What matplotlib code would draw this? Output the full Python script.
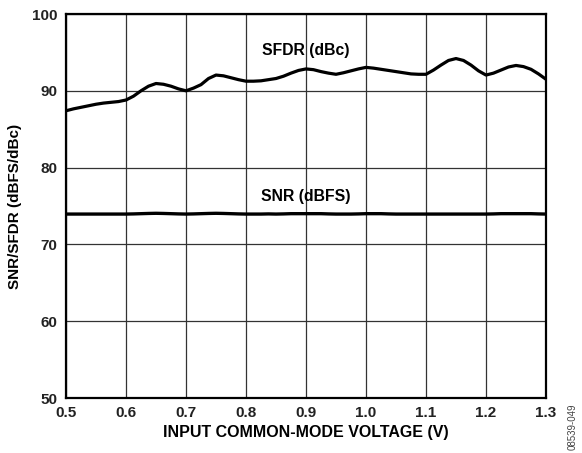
import numpy as np
import matplotlib.pyplot as plt

plt.rcParams['font.family'] = ['Liberation Sans', 'DejaVu Sans']
plt.rcParams['font.weight'] = 'bold'

# tensao de modo comum (V), lida a cada 0.0125 V
vcm = [0.5, 0.5125, 0.525, 0.5375, 0.55, 0.5625, 0.575, 0.5875, 0.6, 0.6125,
       0.625, 0.6375, 0.65, 0.6625, 0.675, 0.6875, 0.7, 0.7125, 0.725, 0.7375,
       0.75, 0.7625, 0.775, 0.7875, 0.8, 0.8125, 0.825, 0.8375, 0.85, 0.8625,
       0.875, 0.8875, 0.9, 0.9125, 0.925, 0.9375, 0.95, 0.9625, 0.975, 0.9875,
       1.0, 1.0125, 1.025, 1.0375, 1.05, 1.0625, 1.075, 1.0875, 1.1, 1.1125,
       1.125, 1.1375, 1.15, 1.1625, 1.175, 1.1875, 1.2, 1.2125, 1.225, 1.2375,
       1.25, 1.2625, 1.275, 1.2875, 1.3]

sfdr = [87.4, 87.65, 87.85, 88.05, 88.25, 88.4, 88.5, 88.6, 88.8, 89.3,
        90.0, 90.6, 90.95, 90.85, 90.6, 90.25, 90.0, 90.35, 90.8, 91.6,
        92.05, 91.95, 91.7, 91.45, 91.25, 91.25, 91.3, 91.45, 91.6, 91.9,
        92.3, 92.65, 92.85, 92.75, 92.5, 92.3, 92.15, 92.35, 92.6, 92.85,
        93.05, 92.95, 92.8, 92.65, 92.5, 92.35, 92.2, 92.15, 92.15, 92.7,
        93.35, 93.95, 94.2, 93.95, 93.35, 92.6, 92.05, 92.3, 92.7, 93.1,
        93.3, 93.15, 92.8, 92.2, 91.5]

snr = [73.95, 73.95, 73.95, 73.95, 73.95, 73.95, 73.95, 73.95, 73.95, 73.97,
       74.0, 74.03, 74.05, 74.03, 74.0, 73.97, 73.95, 73.97, 74.0, 74.03,
       74.05, 74.03, 74.0, 73.97, 73.95, 73.95, 73.95, 73.97, 73.95, 73.97,
       74.0, 74.0, 74.0, 74.0, 74.0, 73.97, 73.95, 73.95, 73.95, 73.97,
       74.0, 74.0, 74.0, 73.97, 73.95, 73.95, 73.95, 73.95, 73.95, 73.95,
       73.95, 73.95, 73.95, 73.95, 73.95, 73.95, 73.95, 73.97, 74.0, 74.0,
       74.0, 74.0, 74.0, 73.97, 73.95]

xticks = [0.5, 0.6, 0.7, 0.8, 0.9, 1.0, 1.1, 1.2, 1.3]
yticks = [50, 60, 70, 80, 90, 100]

fig = plt.figure(figsize=(5.82, 4.53), dpi=100)
ax = fig.add_axes([66 / 582, 1 - 398 / 453, 480 / 582, 384 / 453])

ax.plot(vcm, sfdr, color='black', lw=2.3, solid_joinstyle='round', solid_capstyle='butt')
ax.plot(vcm, snr, color='black', lw=2.4, solid_joinstyle='round', solid_capstyle='butt')

ax.text(0.9, 95.3, 'SFDR (dBc)', ha='center', va='center', fontsize=11.3, fontweight='bold')
ax.text(0.9, 76.2, 'SNR (dBFS)', ha='center', va='center', fontsize=11.3, fontweight='bold')

ax.set_xlim(0.5, 1.3)
ax.set_ylim(50, 100)
ax.set_xticks(xticks)
ax.set_xticklabels(['%.1f' % v for v in xticks])
ax.set_yticks(yticks)
ax.grid(True, color='#333333', lw=0.9)
ax.tick_params(length=0, labelsize=11, pad=6, colors='#222222')
for s in ax.spines.values():
    s.set_linewidth(1.6)

ax.set_xlabel('INPUT COMMON-MODE VOLTAGE (V)', fontsize=11.5, fontweight='bold', labelpad=3)
ax.set_ylabel('SNR/SFDR (dBFS/dBc)', fontsize=11, fontweight='bold', labelpad=7)

fig.text(573 / 582, 1 - 427 / 453, '08539-049', rotation=90, ha='center', va='center',
         fontsize=7, fontweight='normal', color='#444444')

plt.savefig('out.png', dpi=100)
